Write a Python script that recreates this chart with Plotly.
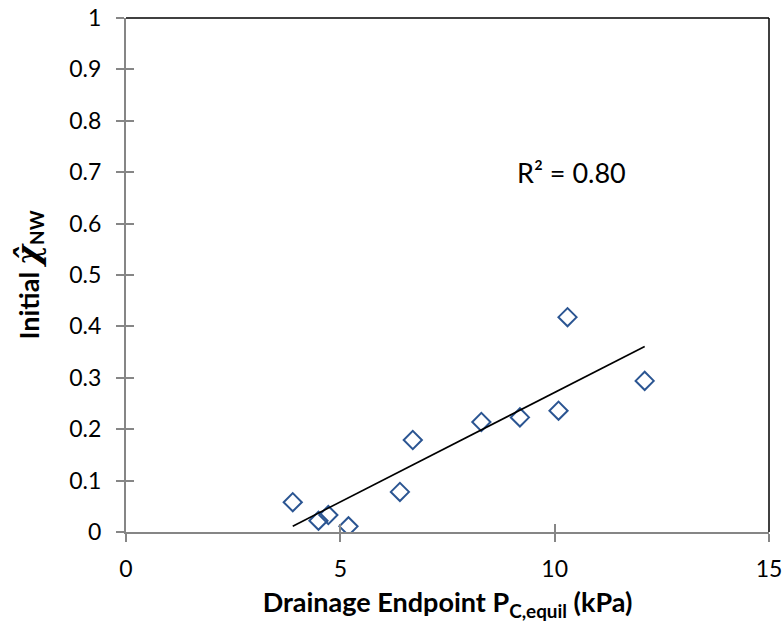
import numpy as np
import plotly.graph_objects as go

# Data
pc_equil = [3.89, 4.49, 4.72, 5.19, 6.39, 6.69, 8.29, 9.19, 10.09, 10.30, 12.10]
chi_nw = [0.058, 0.022, 0.033, 0.011, 0.078, 0.179, 0.214, 0.223, 0.236, 0.418, 0.294]
r2_label = "R² = 0.80"
x_ticks = [0, 5, 10, 15]
y_ticks = [0, 0.1, 0.2, 0.3, 0.4, 0.5, 0.6, 0.7, 0.8, 0.9, 1]

# Linear trendline (least squares)
slope, intercept = np.polyfit(pc_equil, chi_nw, 1)
trend_x = [min(pc_equil), max(pc_equil)]
trend_y = [slope * v + intercept for v in trend_x]

FONT = "Lato"
AX_GRAY = "#868686"

fig = go.Figure()
fig.add_trace(go.Scatter(
    x=pc_equil, y=chi_nw, mode="markers",
    marker=dict(symbol="diamond-open", size=14, color="#2B5592",
                line=dict(width=2, color="#2B5592")),
    showlegend=False, hoverinfo="x+y",
))
fig.add_trace(go.Scatter(
    x=trend_x, y=trend_y, mode="lines",
    line=dict(color="black", width=1.6),
    showlegend=False, xaxis="x2", yaxis="y2",
))

common_x = dict(range=[0, 15], tickvals=x_ticks, showgrid=False, zeroline=False)
common_y = dict(range=[0, 1], tickvals=y_ticks, showgrid=False, zeroline=False)

y_title = ("<b>Initial <span style=\"font-family:'DejaVu Serif';font-size:31px\"><i>χ̂</i></span>"
           "<sub>NW</sub></b>")

fig.update_layout(
    width=782, height=622,
    margin=dict(l=126, r=13, t=18, b=90),
    paper_bgcolor="white", plot_bgcolor="white",
    font=dict(family=FONT, color="black"),
    xaxis=dict(**common_x, showline=True, linecolor=AX_GRAY, linewidth=2,
               ticks="outside", ticklen=8, tickcolor=AX_GRAY, tickwidth=1.5,
               automargin=False, ticklabelstandoff=7, ticklabeloverflow="allow",
               tickfont=dict(size=23, family=FONT),
               title=dict(text="<b>Drainage Endpoint P<sub>C,equil</sub> (kPa)</b>",
                          font=dict(size=27, family=FONT), standoff=14)),
    yaxis=dict(**common_y, showline=True, linecolor=AX_GRAY, linewidth=2,
               ticks="outside", ticklen=8, tickcolor=AX_GRAY, tickwidth=1.5,
               automargin=False, ticklabelstandoff=10, ticklabeloverflow="allow",
               tickfont=dict(size=23, family=FONT),
               title=dict(text=y_title,
                          font=dict(size=27, family=FONT), standoff=22)),
    xaxis2=dict(**common_x, overlaying="x", showline=False, showticklabels=False,
                ticks="inside", ticklen=8, tickcolor=AX_GRAY, tickwidth=1.5),
    yaxis2=dict(**common_y, overlaying="y", showline=False, showticklabels=False,
                ticks="inside", ticklen=8, tickcolor=AX_GRAY, tickwidth=1.5,
                anchor="x2"),
    shapes=[
        dict(type="line", xref="paper", yref="paper", x0=0, x1=1, y0=1, y1=1,
             line=dict(color="black", width=1.5)),
        dict(type="line", xref="paper", yref="paper", x0=1, x1=1, y0=0, y1=1,
             line=dict(color="black", width=1.5)),
    ],
    annotations=[
        dict(text=r2_label, x=10.4, y=0.70, xref="x", yref="y", showarrow=False,
             font=dict(size=27, family=FONT, color="black")),
    ],
)

fig.write_html("out.html")
